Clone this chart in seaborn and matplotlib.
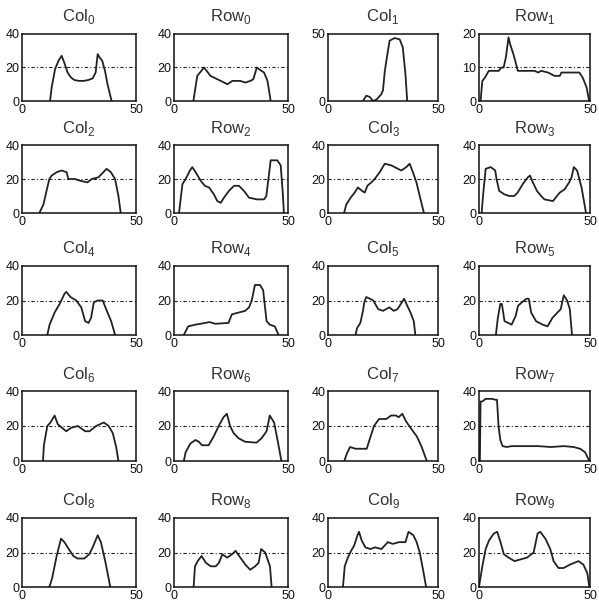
import matplotlib
matplotlib.use("Agg")
import matplotlib.pyplot as plt
import seaborn as sns

# --- profiles (x position, value) ---
col0_x = [12.3, 13, 14.5, 16, 17.4, 18.5, 20, 21.5, 23, 25, 27, 29, 31, 32.3, 33.2, 34, 35.2, 36.4, 37.5, 39.3]
col0_y = [0, 8, 19, 24, 27, 23, 17, 14, 12.5, 12, 12, 12.5, 13.5, 17, 28, 26, 24, 18, 10, 0]

row0_x = [8.5, 10.2, 13.2, 16, 19, 22, 23.4, 25.6, 29, 31.3, 33.5, 34.8, 36.3, 37.3, 39.5, 41, 42.4]
row0_y = [0, 15, 20, 15, 13, 11, 10, 12, 12, 11, 12, 13, 20, 19, 17, 12, 0]

col1_x = [15.9, 17.4, 19, 20.5, 22, 24.2, 25, 25.8, 27, 28, 30.3, 32.6, 34, 35.2, 36]
col1_y = [0, 4, 3, 0, 1, 5, 8, 22, 35, 45, 47, 46, 40, 20, 0]

row1_x = [0.7, 1.5, 2.7, 4.4, 8.9, 10.1, 11.1, 12.1, 13.3, 14, 15.5, 16.3, 17.5, 25.1, 26.6, 28, 31.1,
          34, 36.4, 37.1, 45.2, 46.7, 48.5, 49.6]
row1_y = [0, 6, 7, 9, 9, 10, 10, 13, 19, 17, 14, 12, 9, 9, 8.5, 9, 8.5,
          7.5, 7.5, 8.5, 8.5, 7, 4, 0]

col2_x = [7.6, 9.4, 11.1, 12, 13, 15.2, 17.4, 19.6, 20.3, 23.2, 25.4, 28.7, 30.6, 33.5, 35.7, 37.1, 39,
          40.8, 42.3, 43.3]
col2_y = [0, 5, 15, 20, 22, 24, 25, 24, 20, 20, 19, 18, 20, 21, 24, 26, 24,
          20, 10, 0]

row2_x = [2.2, 3.7, 5.1, 7, 8, 9.5, 11.7, 13.5, 15.4, 17.5, 19, 20.5, 21.9, 24.1, 26.3, 28.5, 30.7,
          32.9, 36.5, 39.5, 40.5, 42.4, 45.3, 46.8, 47.8, 48.2]
row2_y = [0, 17, 20, 25, 27, 24, 19, 16, 15, 11, 7, 6, 9, 13, 16, 16, 13,
          9, 8, 8, 10, 31, 31, 28, 10, 0]

col3_x = [7.3, 8.3, 10.3, 12.1, 13.6, 15.5, 16.7, 17.9, 19.7, 21.2, 23.5, 25.8, 28.8, 31.8, 33.3, 35.6,
          37.1, 38.6, 40.2, 41.7, 43.6]
col3_y = [0, 5, 9, 12, 15, 13, 12, 16, 18, 20, 24, 29, 28, 26, 25, 27,
          29, 24, 18, 10, 0]

row3_x = [1.2, 1.8, 3.0, 5.3, 7.3, 7.9, 9.1, 11.4, 13.6, 15.9, 17.4, 19.7, 22, 23, 23.9, 26.1, 28, 29.5,
          33.3, 34.5, 36.4, 38.6, 40.6, 41.7, 42.7, 44.2, 46.2, 48.2]
row3_y = [0, 10, 26, 27, 25, 20, 13, 11, 10, 10, 12, 17, 21, 22, 19, 13, 10, 8,
          7, 9, 12, 14, 18, 21, 27, 25, 15, 0]

col4_x = [11.1, 12.1, 14.3, 16.5, 18.7, 19.4, 21.3, 23.8, 26, 27.7, 29.2, 30.3, 31.5, 33.2, 35.4, 36.9,
          39.1, 40.2, 40.8]
col4_y = [0, 6, 13, 18, 24, 25, 22, 20, 16, 8, 7, 10, 19, 20, 20, 15,
          8, 3, 0]

row4_x = [4.3, 6.2, 9.4, 13.8, 15.5, 18.1, 23.9, 25.4, 28.3, 31.2, 32.9, 34.1, 35.5, 37.7, 39.1, 40.6,
          42, 44.2, 45.9]
row4_y = [0, 5, 6, 7, 7.5, 6.5, 7, 12, 13, 14, 16, 20, 29, 29, 26, 8,
          6, 5, 0]

col5_x = [12.5, 13.2, 14.7, 15.9, 16.5, 17.4, 19.1, 20.6, 22.8, 25, 27.9, 29.9, 31.6, 33.1, 34.6, 36,
          37.5, 39, 39.7]
col5_y = [0, 4, 7, 14, 19, 22, 21, 20, 15, 14, 16, 14, 15, 18, 21, 17,
          13, 8, 0]

row5_x = [7.6, 8.5, 9.6, 10.3, 11.5, 13.2, 14.7, 16.5, 17.6, 19.4, 21.3, 22.4, 23.5, 25.7, 28.7, 30.9,
          33.1, 34.6, 36.8, 38.2, 39.7, 40.9, 41.9]
row5_y = [0, 10, 18, 18, 8, 7, 6, 11, 17, 19, 21, 21, 13, 8, 6, 5,
          10, 12, 15, 23, 20, 15, 0]

col6_x = [9.2, 9.6, 11.1, 12.5, 14.3, 15.7, 17.5, 19.4, 21.6, 24.5, 27.7, 29.6, 32.5, 35.9, 38, 39.8,
          41.3, 42.3]
col6_y = [0, 9, 20, 22, 26, 21, 19, 17, 19, 20, 17, 17, 20, 22, 20, 16,
          8, 0]

row6_x = [4.3, 5.1, 7.2, 9.4, 10.9, 12.3, 15.2, 17.4, 19.6, 21.7, 23.2, 24.6, 26.1, 28.3, 31.2, 36.2,
          38.4, 40.6, 42, 43.9, 45.7, 47.1]
row6_y = [0, 5, 10, 12, 11, 9, 9, 14, 20, 25, 27, 20, 16, 13, 11, 10.5,
          13, 17, 26, 22, 10, 0]

col7_x = [7.4, 8.5, 10, 12.5, 17.6, 19.1, 20.9, 23.2, 26.5, 28.7, 30.9, 32.1, 33.8, 35.3, 37.5, 40.4,
          42.6, 44.9]
col7_y = [0, 4, 8, 7, 7, 13, 20, 24, 24, 26, 26, 25, 27, 23, 19, 14,
          8, 0]

row7_x = [0.4, 0.7, 1.5, 2.9, 5.9, 7.4, 8.1, 8.8, 9.6, 10.6, 12.5, 14.7, 26.5, 32.4, 38.2, 42.6,
          45.6, 47.8, 49.7]
row7_y = [0, 34, 34, 35.5, 35.5, 35, 35, 20, 12, 8.5, 8, 8.5, 8.5, 8, 8.5, 8,
          7, 5, 0]

col8_x = [12, 13.2, 15.2, 17.1, 18.6, 20.5, 22.5, 24.4, 27.3, 29.5, 31, 33.2, 34.6, 36.5, 38, 38.7]
col8_y = [0, 5, 18, 28, 26, 22, 18, 16.5, 16.5, 19, 23, 30, 26, 15, 5, 0]

row8_x = [8.6, 9.2, 10.4, 12.1, 14, 16.1, 18.3, 19.7, 21.2, 23.3, 25.5, 27, 29.1, 31.3, 33.4, 35.6,
          37.1, 38.2, 40, 42.1, 42.8]
row8_y = [0, 12, 15, 18, 14, 12, 12, 14, 19, 17, 19, 21, 17, 13, 10, 12,
          14, 22, 20, 12, 0]

col9_x = [6.8, 7.6, 9, 10.5, 11.9, 13.4, 14.1, 15.3, 17, 19.2, 21.4, 24.3, 27.2, 29.4, 32.3, 35.2,
          36.6, 38.8, 40.3, 41.7, 43.2, 44.6]
col9_y = [0, 12, 17, 21, 24, 30, 32, 27, 23, 22, 23, 22, 26, 25, 26, 26,
          32, 30, 26, 20, 10, 0]

row9_x = [0, 1.5, 3, 4.5, 6.7, 8.2, 9.7, 11.2, 13.4, 16, 18.7, 21.6, 24.6, 26.4, 27.6, 29.9, 32.1,
          33.6, 35.8, 38.1, 41, 44.8, 47, 48.8, 49.7]
row9_y = [0, 12, 22, 27, 31, 32, 26, 19, 17, 15, 16, 17, 20, 31, 32, 28, 22,
          15, 11, 11, 13, 15, 13, 8, 0]

# panel order: left to right, top to bottom
panel_names = ["Col0", "Row0", "Col1", "Row1",
               "Col2", "Row2", "Col3", "Row3",
               "Col4", "Row4", "Col5", "Row5",
               "Col6", "Row6", "Col7", "Row7",
               "Col8", "Row8", "Col9", "Row9"]
panel_x = [col0_x, row0_x, col1_x, row1_x, col2_x, row2_x, col3_x, row3_x, col4_x, row4_x,
           col5_x, row5_x, col6_x, row6_x, col7_x, row7_x, col8_x, row8_x, col9_x, row9_x]
panel_y = [col0_y, row0_y, col1_y, row1_y, col2_y, row2_y, col3_y, row3_y, col4_y, row4_y,
           col5_y, row5_y, col6_y, row6_y, col7_y, row7_y, col8_y, row8_y, col9_y, row9_y]

# axis ranges; Col1 and Row1 use their own scale
y_max = {"Col1": 50, "Row1": 20}
y_ticks = {"Col1": [0, 50], "Row1": [0, 10, 20]}
ref_level = {"Col1": None, "Row1": 10}

sns.set_style("white")
plt.rcParams["font.family"] = ["Liberation Sans", "DejaVu Sans"]
plt.rcParams["mathtext.fontset"] = "custom"
plt.rcParams["mathtext.rm"] = "Liberation Sans"

W, H = 599, 606
fig = plt.figure(figsize=(W / 100, H / 100), dpi=100)

col_left = [22, 174, 328, 479]
col_width = [114, 114, 110, 111]
row_top = [34, 145, 266, 391, 518]
row_bottom = [101, 213, 335, 461, 587]

for i, name in enumerate(panel_names):
    r, c = divmod(i, 4)
    ax = fig.add_axes([col_left[c] / W, 1 - row_bottom[r] / H,
                       col_width[c] / W, (row_bottom[r] - row_top[r]) / H])
    sns.lineplot(x=panel_x[i], y=panel_y[i], ax=ax, color="#222222", linewidth=1.3,
                 sort=False, estimator=None)
    ref = ref_level.get(name, 20)
    if ref is not None:
        ax.axhline(ref, color="#222222", linewidth=0.8, linestyle=(0, (3, 2, 1, 2)))
    ax.set_xlim(0, 50)
    ax.set_ylim(0, y_max.get(name, 40))
    ax.set_xticks([0, 50])
    ax.set_yticks(y_ticks.get(name, [0, 20, 40]))
    ax.tick_params(length=0, labelsize=9, pad=2, colors="#111111")
    for s in ax.spines.values():
        s.set_color("#111111")
        s.set_linewidth(1.1)
    ax.set_title(r"%s$_\mathregular{%s}$" % (name[:-1], name[-1]), fontsize=12, pad=9,
                 color="#333333")

plt.savefig("out.png", dpi=100)
plt.close(fig)
